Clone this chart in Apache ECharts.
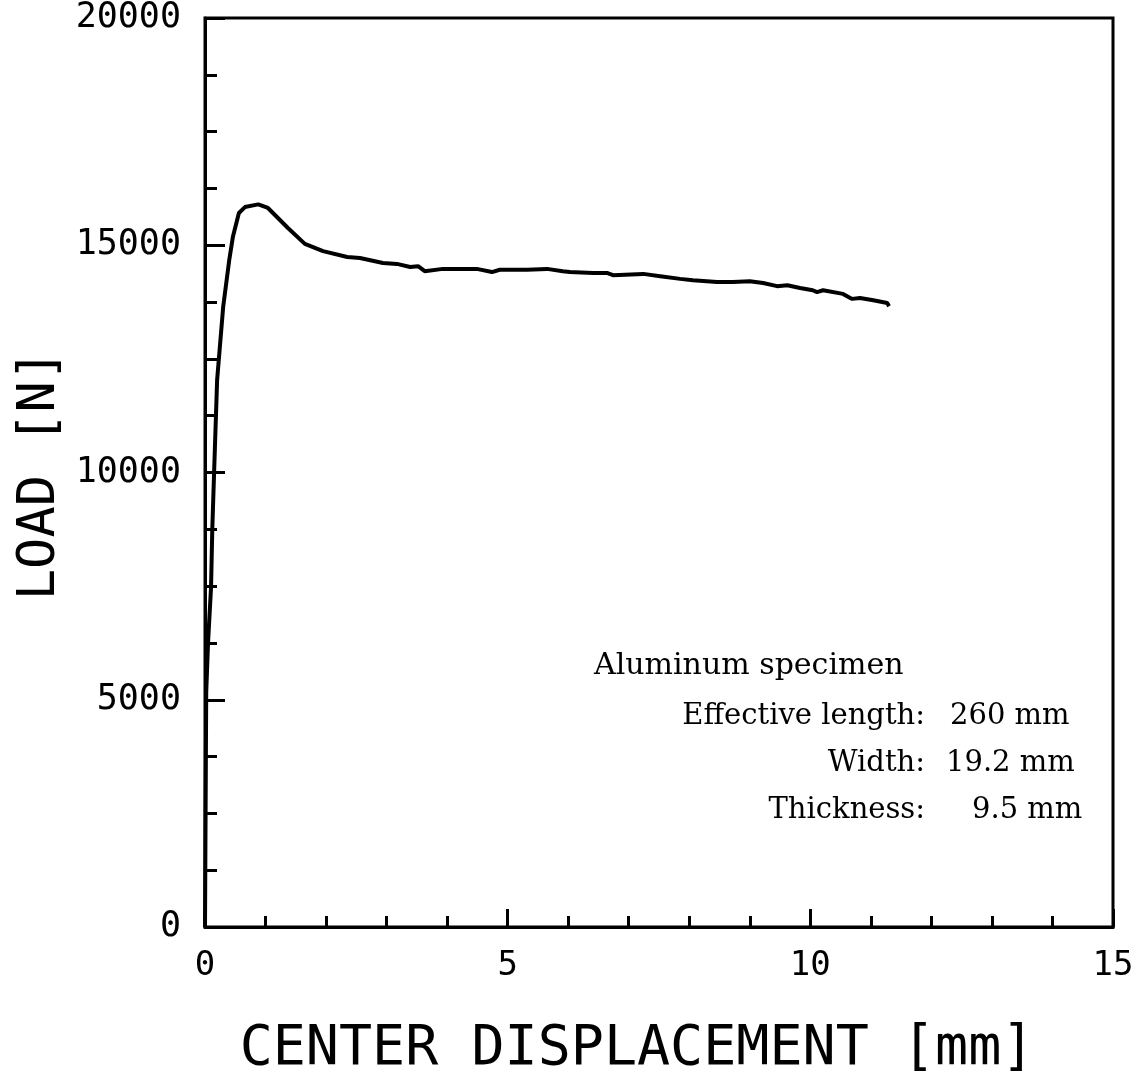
<!DOCTYPE html>
<html>
<head>
<meta charset="utf-8">
<script src="https://cdn.jsdelivr.net/npm/echarts@6/dist/echarts.min.js"></script>
<style>
html,body{margin:0;padding:0;background:#fff;}
#chart{width:1142px;height:1078px;}
</style>
</head>
<body>
<div id="chart"></div>
<script>
// Center displacement [mm]
var displacement = [0, 0.02, 0.05, 0.10, 0.12, 0.15, 0.20, 0.30, 0.40, 0.46, 0.56, 0.66, 0.88, 1.04, 1.37, 1.65, 1.95, 2.35, 2.56, 2.94, 3.17, 3.39, 3.52, 3.63, 3.93, 4.21, 4.49, 4.74, 4.87, 5.32, 5.65, 5.91, 6.03, 6.41, 6.64, 6.74, 7.24, 7.52, 7.85, 8.06, 8.46, 8.72, 9.00, 9.22, 9.45, 9.62, 9.83, 10.04, 10.11, 10.21, 10.54, 10.69, 10.82, 11.04, 11.27, 11.30];
// Load [N]
var load = [0, 5150, 6250, 7480, 8730, 9990, 12030, 13640, 14670, 15180, 15710, 15840, 15900, 15820, 15380, 15030, 14870, 14740, 14720, 14610, 14590, 14520, 14540, 14430, 14480, 14480, 14480, 14410, 14460, 14460, 14480, 14430, 14410, 14390, 14390, 14340, 14370, 14320, 14260, 14230, 14190, 14190, 14210, 14170, 14100, 14120, 14060, 14010, 13970, 14010, 13930, 13820, 13840, 13790, 13730, 13660];
var xTitle = 'CENTER DISPLACEMENT [mm]';
var yTitle = 'LOAD [N]';
var noteTitle = 'Aluminum specimen';
var noteLabels = ['Effective length:', 'Width:', 'Thickness:'];
var noteValues = ['260 mm', '19.2 mm', '9.5 mm'];

var pts = displacement.map(function (x, i) { return [x, load[i]]; });
var tickFont = '"DejaVu Sans Mono", monospace';
var titleFont = '"DejaVu Sans Mono", monospace';
var serif = '"DejaVu Serif", "Liberation Serif", serif';

var chart = echarts.init(document.getElementById('chart'));
var graphics = [
  {type: 'text', x: 637, y: 1050, style: {text: xTitle, font: '55px ' + titleFont, fill: '#000', textAlign: 'center', textVerticalAlign: 'middle'}},
  {type: 'text', x: 40, y: 475, rotation: Math.PI / 2, style: {text: yTitle, font: '52px ' + titleFont, fill: '#000', textAlign: 'center', textVerticalAlign: 'middle'}},
  {type: 'text', x: 594, y: 666, style: {text: noteTitle, font: '30px ' + serif, fill: '#000', textAlign: 'left', textVerticalAlign: 'middle'}}
];
var rowY = [716, 763, 810];
var valX = [950, 946, 972];
for (var i = 0; i < noteLabels.length; i++) {
  graphics.push({type: 'text', x: 925, y: rowY[i], style: {text: noteLabels[i], font: '29px ' + serif, fill: '#000', textAlign: 'right', textVerticalAlign: 'middle'}});
  graphics.push({type: 'text', x: valX[i], y: rowY[i], style: {text: noteValues[i], font: '29px ' + serif, fill: '#000', textAlign: 'left', textVerticalAlign: 'middle'}});
}

chart.setOption({
  animation: false,
  backgroundColor: '#fff',
  grid: {left: 205, right: 29, top: 18, bottom: 151, show: true, borderColor: '#000', borderWidth: 3, backgroundColor: 'transparent'},
  xAxis: {
    type: 'value', min: 0, max: 15, interval: 5,
    axisLine: {show: true, lineStyle: {color: '#000', width: 3}},
    axisTick: {show: true, inside: true, length: 18, lineStyle: {color: '#000', width: 3}},
    minorTick: {show: true, splitNumber: 5, length: 11, lineStyle: {color: '#000', width: 3}},
    splitLine: {show: false},
    axisLabel: {color: '#000', fontFamily: tickFont, fontSize: 34, margin: 22, formatter: function (v) { return String(v); }}
  },
  yAxis: {
    type: 'value', min: 0, max: 20000, interval: 5000,
    axisLine: {show: true, lineStyle: {color: '#000', width: 3}},
    axisTick: {show: true, inside: true, length: 20, lineStyle: {color: '#000', width: 3}},
    minorTick: {show: true, splitNumber: 4, length: 12, lineStyle: {color: '#000', width: 3}},
    splitLine: {show: false},
    axisLabel: {color: '#000', fontFamily: tickFont, fontSize: 35, margin: 24, formatter: function (v) { return String(v); }}
  },
  series: [{
    type: 'line', data: pts, showSymbol: false, symbol: 'none',
    lineStyle: {color: '#000', width: 4}, clip: false
  }],
  graphic: graphics
});
</script>
</body>
</html>
